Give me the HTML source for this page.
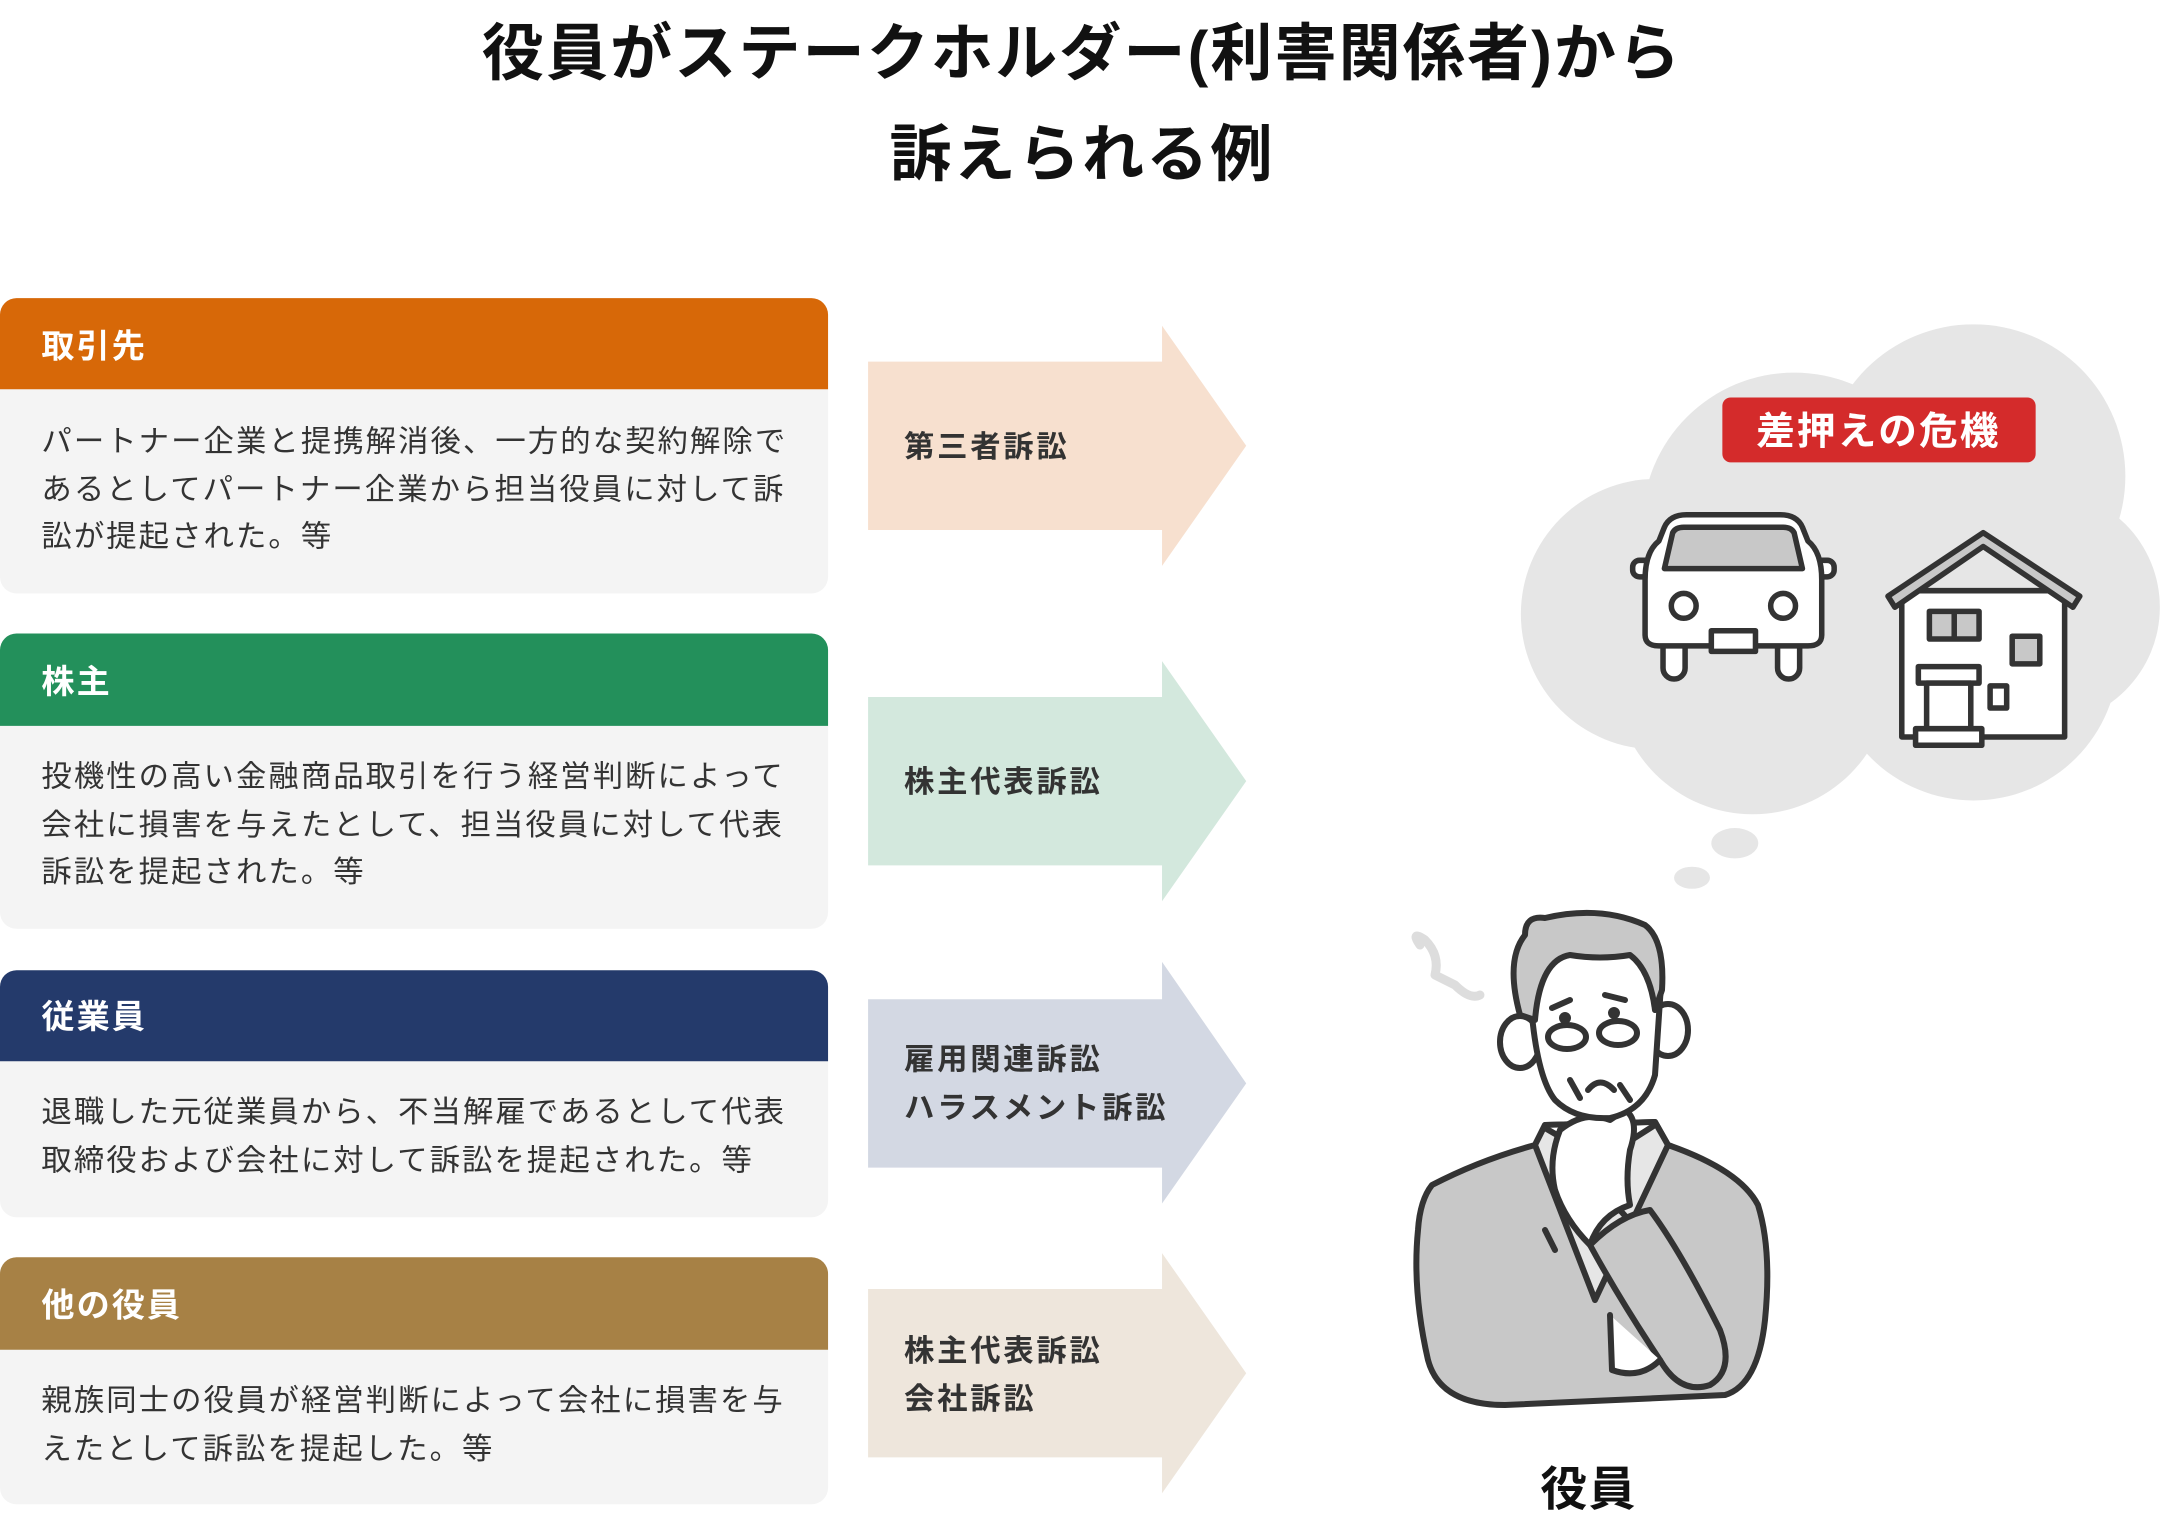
<!DOCTYPE html>
<html><head><meta charset="utf-8"><style>
html,body{margin:0;padding:0;background:#fff;width:2164px;height:1520px;overflow:hidden}
svg{display:block}
text{font-family:"Liberation Sans","Noto Sans CJK JP",sans-serif}
</style></head><body>
<svg width="2164" height="1520" viewBox="0 0 2164 1520" xmlns="http://www.w3.org/2000/svg">
<g transform="scale(1.38010)">
<text x="784" y="54" font-size="45" font-weight="700" text-anchor="middle" fill="#111" letter-spacing="1.5">役員がステークホルダー(利害関係者)から</text>
<text x="784" y="127" font-size="45" font-weight="700" text-anchor="middle" fill="#111" letter-spacing="1.5">訴えられる例</text>

<!-- cards -->
<g>
<rect x="0" y="216" width="600" height="214" rx="12" fill="#f4f4f4"/>
<path d="M0,228 a12,12 0 0 1 12,-12 h576 a12,12 0 0 1 12,12 v54 h-600z" fill="#d76808"/>
<text x="30" y="259" font-size="24" font-weight="700" fill="#fff" letter-spacing="1.5">取引先</text>
<g font-size="22" fill="#333" letter-spacing="1.5">
<text x="30" y="327">パートナー企業と提携解消後、一方的な契約解除で</text>
<text x="30" y="362">あるとしてパートナー企業から担当役員に対して訴</text>
<text x="30" y="396">訟が提起された。等</text></g>

<rect x="0" y="459" width="600" height="214" rx="12" fill="#f4f4f4"/>
<path d="M0,471 a12,12 0 0 1 12,-12 h576 a12,12 0 0 1 12,12 v55 h-600z" fill="#23905b"/>
<text x="30" y="502" font-size="24" font-weight="700" fill="#fff" letter-spacing="1.5">株主</text>
<g font-size="22" fill="#333" letter-spacing="1.5">
<text x="30" y="570">投機性の高い金融商品取引を行う経営判断によって</text>
<text x="30" y="605">会社に損害を与えたとして、担当役員に対して代表</text>
<text x="30" y="639">訴訟を提起された。等</text></g>

<rect x="0" y="703" width="600" height="179" rx="12" fill="#f4f4f4"/>
<path d="M0,715 a12,12 0 0 1 12,-12 h576 a12,12 0 0 1 12,12 v54 h-600z" fill="#243a6b"/>
<text x="30" y="745" font-size="24" font-weight="700" fill="#fff" letter-spacing="1.5">従業員</text>
<g font-size="22" fill="#333" letter-spacing="1.5">
<text x="30" y="813">退職した元従業員から、不当解雇であるとして代表</text>
<text x="30" y="848">取締役および会社に対して訴訟を提起された。等</text></g>

<rect x="0" y="911" width="600" height="179" rx="12" fill="#f4f4f4"/>
<path d="M0,923 a12,12 0 0 1 12,-12 h576 a12,12 0 0 1 12,12 v55 h-600z" fill="#a78145"/>
<text x="30" y="954" font-size="24" font-weight="700" fill="#fff" letter-spacing="1.5">他の役員</text>
<g font-size="22" fill="#333" letter-spacing="1.5">
<text x="30" y="1022">親族同士の役員が経営判断によって会社に損害を与</text>
<text x="30" y="1057">えたとして訴訟を提起した。等</text></g>
</g>

<!-- arrows -->
<g font-size="22" font-weight="700" fill="#333" letter-spacing="2">
<polygon points="629,262 842,262 842,236 903,323 842,410 842,384 629,384" fill="#f7e0cf"/>
<text x="655" y="331">第三者訴訟</text>
<polygon points="629,505 842,505 842,479 903,566 842,653 842,627 629,627" fill="#d3e8dd"/>
<text x="655" y="574">株主代表訴訟</text>
<polygon points="629,724 842,724 842,697 903,785 842,872 842,846 629,846" fill="#d3d8e3"/>
<text x="655" y="775">雇用関連訴訟</text>
<text x="655" y="810">ハラスメント訴訟</text>
<polygon points="629,934 842,934 842,908 903,995 842,1082 842,1056 629,1056" fill="#eee6dc"/>
<text x="655" y="986">株主代表訴訟</text>
<text x="655" y="1021">会社訴訟</text>
</g>

<!-- cloud -->
<g fill="#e6e6e6">
<circle cx="1200" cy="445" r="98"/>
<circle cx="1300" cy="380" r="110"/>
<circle cx="1430" cy="345" r="110"/>
<circle cx="1480" cy="440" r="85"/>
<circle cx="1270" cy="490" r="100"/>
<circle cx="1430" cy="475" r="105"/>
<ellipse cx="1257" cy="611" rx="17" ry="11"/>
<ellipse cx="1226" cy="636" rx="13" ry="8"/>
</g>
<rect x="1248" y="288" width="227" height="47" rx="6" fill="#d42b2b"/>
<text x="1361" y="322" font-size="28" font-weight="700" fill="#fff" text-anchor="middle" letter-spacing="1.5">差押えの危機</text>

<!-- car -->
<g stroke="#333" stroke-width="4" stroke-linejoin="round">
<rect x="1183" y="406" width="16" height="12" rx="5" fill="#fff"/>
<rect x="1313" y="406" width="16" height="12" rx="5" fill="#fff"/>
<path d="M1205,468 v16 a8,8 0 0 0 16,0 v-16 M1288,468 v16 a8,8 0 0 0 16,0 v-16" fill="#fff"/>
<path d="M1192,420 Q1192,400 1202,392 L1206,382 Q1210,373 1222,373 L1290,373 Q1302,373 1306,382 L1310,392 Q1320,400 1320,420 L1320,460 Q1320,468 1310,468 L1202,468 Q1192,468 1192,460 Z" fill="#fff"/>
<path d="M1206,412 L1212,386 Q1214,382 1220,382 L1292,382 Q1298,382 1300,386 L1306,412 Z" fill="#c8c8c8"/>
<circle cx="1220" cy="439" r="9" fill="#fff"/>
<circle cx="1292" cy="439" r="9" fill="#fff"/>
<rect x="1240" y="457" width="32" height="15" fill="#fff"/>
</g>
<!-- house -->
<g stroke="#333" stroke-width="4" stroke-linejoin="round">
<rect x="1378" y="428" width="118" height="106" fill="#fff"/>
<path d="M1368,432 L1437,386 L1507,432 L1502,440 L1437,396 L1373,440 Z" fill="#c8c8c8"/>
<rect x="1398" y="443" width="36" height="20" fill="#c8c8c8"/>
<line x1="1416" y1="443" x2="1416" y2="463"/>
<rect x="1458" y="461" width="20" height="20" fill="#c8c8c8"/>
<rect x="1442" y="497" width="12" height="16" fill="#fff"/>
<rect x="1390" y="483" width="44" height="12" fill="#fff"/>
<rect x="1396" y="495" width="32" height="36" fill="#fff"/>
<rect x="1388" y="528" width="48" height="12" fill="#fff"/>
</g>

<text x="1151" y="1091" font-size="34" font-weight="700" text-anchor="middle" fill="#111" letter-spacing="1">役員</text>
</g>

<!-- man (original coords) -->
<g stroke="#333" stroke-width="6" stroke-linejoin="round" stroke-linecap="round">
<path d="M1420,945 Q1410,930 1425,940 Q1440,955 1435,975 Q1445,980 1455,985 Q1470,1000 1480,995" fill="none" stroke="#ddd" stroke-width="9"/>
<path d="M1432,1185 Q1480,1160 1535,1145 L1545,1125 L1655,1122 L1668,1145 Q1740,1170 1758,1205 Q1772,1250 1765,1320 Q1758,1385 1725,1395 L1505,1405 Q1440,1405 1428,1360 Q1412,1290 1418,1230 Q1420,1200 1432,1185 Z" fill="#c8c8c8"/>
<path d="M1535,1145 L1545,1125 L1655,1122 L1668,1145 L1595,1300 Z" fill="#e6e6e6"/>
<path d="M1545,1128 L1600,1160 L1655,1125" fill="#fff"/>
<path d="M1555,1250 L1545,1230 M1615,1205 Q1660,1250 1700,1350" fill="none"/>
<path d="M1590,1245 Q1620,1215 1650,1210 Q1680,1250 1720,1330 Q1735,1370 1710,1385 Q1680,1395 1660,1360 Q1620,1300 1590,1245 Z" fill="#c8c8c8"/>
<path d="M1610,1315 L1612,1370 Q1640,1380 1660,1360" fill="#fff"/>
<path d="M1560,1130 Q1585,1110 1610,1120 L1625,1110 Q1640,1120 1630,1150 Q1625,1180 1630,1205 Q1600,1215 1590,1245 Q1565,1220 1555,1190 Q1548,1160 1560,1130 Z" fill="#fff"/>
<ellipse cx="1520" cy="1042" rx="20" ry="26" fill="#fff"/>
<ellipse cx="1668" cy="1030" rx="20" ry="26" fill="#fff"/>
<path d="M1530,990 Q1525,940 1555,925 Q1600,910 1640,925 Q1665,945 1660,1000 L1655,1075 Q1645,1110 1610,1118 Q1575,1120 1555,1100 Q1535,1075 1530,990 Z" fill="#fff"/>
<path d="M1520,1015 Q1505,960 1525,935 Q1525,915 1545,918 Q1600,905 1645,925 Q1665,940 1662,990 L1655,1010 Q1650,970 1630,955 Q1600,960 1570,955 Q1540,960 1535,1020 Z" fill="#c8c8c8"/>
<ellipse cx="1567" cy="1037" rx="19" ry="12" fill="#fff"/>
<ellipse cx="1618" cy="1033" rx="19" ry="12" fill="#fff"/>
<path d="M1552,1008 L1570,1000 M1605,995 L1625,1000 M1580,1098 L1570,1080 M1620,1085 L1630,1100" fill="none"/>
<path d="M1588,1090 Q1600,1075 1614,1090" fill="none"/>
<circle cx="1565" cy="1018" r="3" fill="#333"/>
<circle cx="1614" cy="1013" r="3" fill="#333"/>
</g>
</svg>
</body></html>
